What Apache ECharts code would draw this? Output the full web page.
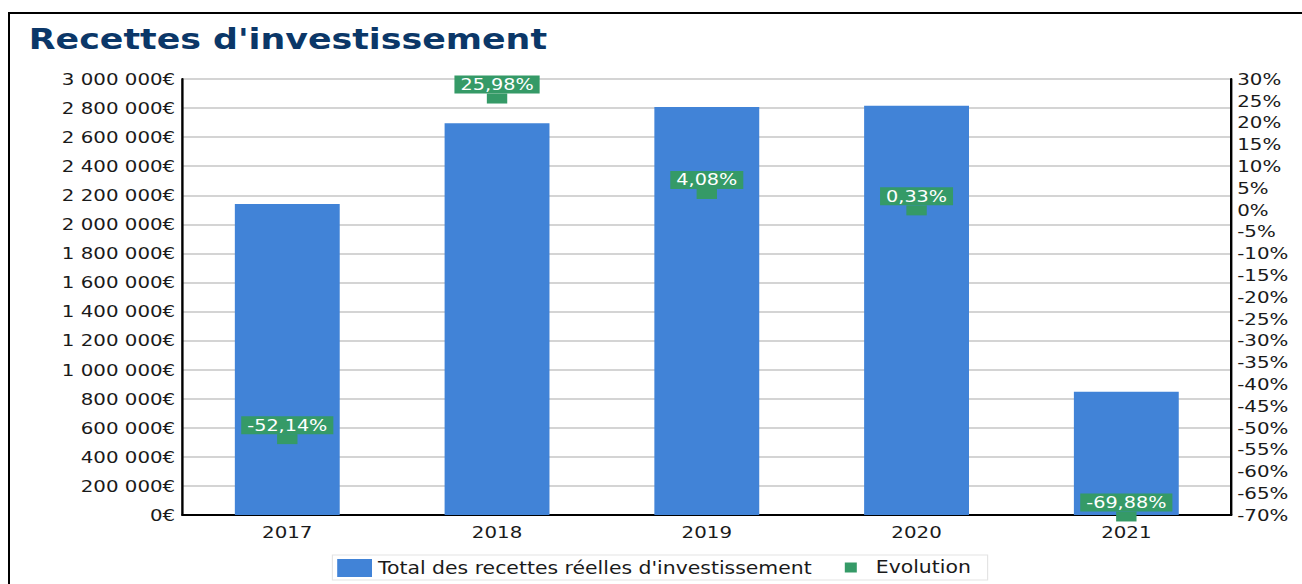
<!DOCTYPE html>
<html>
<head>
<meta charset="utf-8">
<script src="https://cdn.jsdelivr.net/npm/echarts@6/dist/echarts.min.js"></script>
<style>
  html, body { margin: 0; padding: 0; width: 1302px; height: 584px; overflow: hidden; background: #fff; }
  /* cadre noir autour du graphique */
  .frame { position: absolute; left: 8px; top: 12px; width: 1400px; height: 700px; border: 2px solid #000; }
  /* le graphique d'origine est étiré horizontalement */
  #chart { position: absolute; left: 0; top: 0; width: 1085px; height: 584px; transform: scaleX(1.2); transform-origin: 0 0; }
</style>
</head>
<body>
<div class="frame"></div>
<div id="chart"></div>
<script>
// données
const years = ['2017', '2018', '2019', '2020', '2021']
const recettes = [2140000, 2696000, 2807000, 2816000, 848000]
const evolution = [-52.14, 25.98, 4.08, 0.33, -69.88]

const barName = "Total des recettes réelles d'investissement"
const evoName = 'Evolution'
const green = '#359a67'

// 3000000 -> "3 000 000€"
const fmtEuro = v => String(v).replace(/\B(?=(\d{3})+(?!\d))/g, ' ') + '€'
const fmtPct = v => v.toFixed(2).replace('.', ',') + '%'

const chart = echarts.init(document.getElementById('chart'), null, { renderer: 'svg' })

chart.setOption({
  animation: false,
  textStyle: { fontFamily: 'DejaVu Sans' },
  title: {
    text: "Recettes d'investissement",
    left: 24,
    top: 25,
    padding: 0,
    textStyle: { fontFamily: 'DejaVu Sans', fontWeight: 'bold', fontSize: 29, color: '#0b3768' }
  },
  legend: [
    {
      data: [barName],
      left: 281,
      top: 559,
      padding: 0,
      itemWidth: 29,
      itemHeight: 18,
      icon: 'rect',
      textStyle: { fontSize: 17, color: '#1a1a1a' }
    },
    {
      data: [evoName],
      left: 704,
      top: 559,
      padding: 0,
      itemWidth: 10,
      itemHeight: 10,
      icon: 'rect',
      formatter: '  {name}',
      textStyle: { fontSize: 17, color: '#1a1a1a' }
    }
  ],
  graphic: [{
    type: 'rect',
    silent: true,
    shape: { x: 277, y: 555, width: 546, height: 25 },
    style: { fill: 'none', stroke: '#e4e4e4', lineWidth: 1 }
  }],
  grid: { left: 152, right: 59, top: 79, bottom: 69 },
  xAxis: {
    type: 'category',
    data: years,
    axisLine: { lineStyle: { color: '#000', width: 2 } },
    axisTick: { length: 7, lineStyle: { color: '#cccccc', width: 2 } },
    axisLabel: { fontSize: 16.5, color: '#1a1a1a', margin: 9 }
  },
  yAxis: [
    {
      type: 'value',
      min: 0,
      max: 3000000,
      interval: 200000,
      axisLine: { show: true, lineStyle: { color: '#000', width: 2 } },
      axisTick: { show: false },
      axisLabel: { fontSize: 16.5, color: '#1a1a1a', margin: 6, formatter: fmtEuro },
      splitLine: { lineStyle: { color: '#d4d4d4', width: 2 } }
    },
    {
      type: 'value',
      min: -70,
      max: 30,
      interval: 5,
      position: 'right',
      axisLine: { show: true, lineStyle: { color: '#000', width: 2 } },
      axisTick: { show: false },
      axisLabel: { fontSize: 16.5, color: '#1a1a1a', margin: 5, formatter: v => v + '%' },
      splitLine: { show: false }
    }
  ],
  series: [
    {
      name: barName,
      type: 'bar',
      data: recettes,
      barWidth: '50%',
      itemStyle: { color: '#4183d7' }
    },
    {
      name: evoName,
      type: 'scatter',
      yAxisIndex: 1,
      data: evolution,
      symbol: 'rect',
      symbolSize: [17, 10],
      symbolOffset: [0, 2],
      itemStyle: { color: green, opacity: 1 },
      label: {
        show: true,
        position: 'top',
        distance: 0,
        formatter: p => fmtPct(p.value),
        color: '#fff',
        fontSize: 16,
        backgroundColor: green,
        padding: [1, 5, 1, 5]
      }
    }
  ]
})
</script>
</body>
</html>
